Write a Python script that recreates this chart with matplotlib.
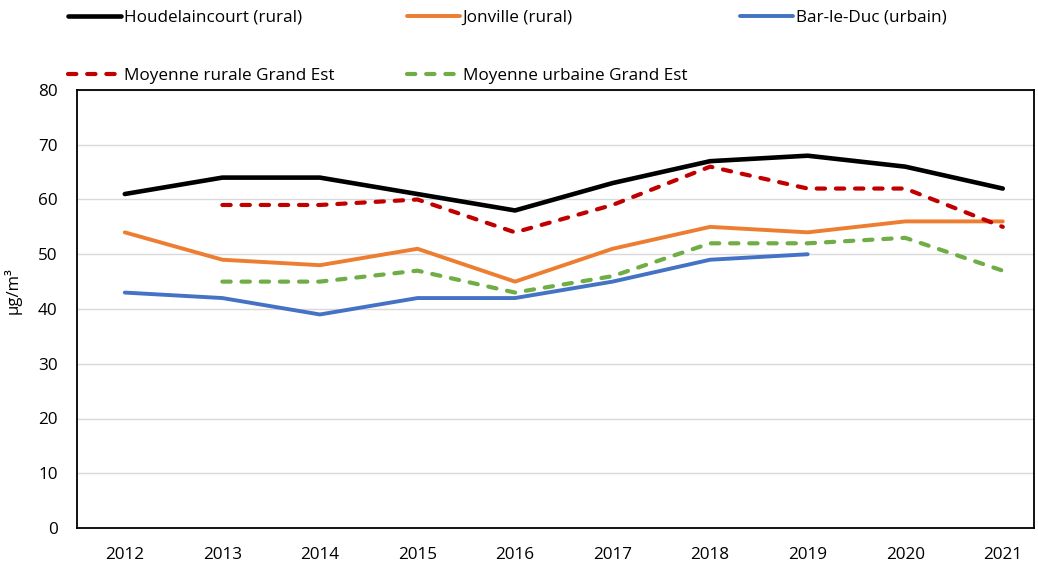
import numpy as np
import matplotlib.pyplot as plt

plt.rcParams['font.family'] = ['Open Sans', 'DejaVu Sans']
plt.rcParams['font.size'] = 12.3

years = ['2012', '2013', '2014', '2015', '2016', '2017', '2018', '2019', '2020', '2021']
houdelaincourt = [61, 64, 64, 61, 58, 63, 67, 68, 66, 62]
jonville = [54, 49, 48, 51, 45, 51, 55, 54, 56, 56]
bar_le_duc = [43, 42, 39, 42, 42, 45, 49, 50, np.nan, np.nan]
moy_rurale = [np.nan, 59, 59, 60, 54, 59, 66, 62, 62, 55]
moy_urbaine = [np.nan, 45, 45, 47, 43, 46, 52, 52, 53, 47]

x = np.arange(len(years))

fig = plt.figure(figsize=(10.38, 5.66), dpi=100)
ax = fig.add_axes([77/1038, 38/566, 957/1038, 438/566])

solid = dict(solid_capstyle='round', solid_joinstyle='round')
dashed = dict(dash_capstyle='round', dash_joinstyle='round', linestyle=(0, (2.0, 2.6)))

l1, = ax.plot(x, houdelaincourt, color='#000000', lw=3.3, label='Houdelaincourt (rural)', zorder=5, **solid)
l2, = ax.plot(x, jonville, color='#ED7D31', lw=2.8, label='Jonville (rural)', zorder=4, **solid)
l3, = ax.plot(x, bar_le_duc, color='#4472C4', lw=2.8, label='Bar-le-Duc (urbain)', zorder=4, **solid)
l4, = ax.plot(x, moy_rurale, color='#C00000', lw=3.0, label='Moyenne rurale Grand Est', zorder=4, **dashed)
l5, = ax.plot(x, moy_urbaine, color='#70AD47', lw=3.0, label='Moyenne urbaine Grand Est', zorder=3, **dashed)

ax.set_xlim(-0.49, 9.32)
ax.set_ylim(0, 80)
ax.set_yticks(range(0, 81, 10))
ax.set_xticks(x)
ax.set_xticklabels(years)
ax.tick_params(length=0)
ax.tick_params(axis='y', pad=14)
ax.tick_params(axis='x', pad=13.5)
ax.grid(axis='y', color='#d9d9d9', lw=1.0)
ax.set_axisbelow(True)
for s in ax.spines.values():
    s.set_color('black')
    s.set_linewidth(1.3)

ax.set_ylabel('µg/m³', fontsize=12)
ax.yaxis.set_label_coords(-0.0575, 0.543)

common = dict(loc='upper left', frameon=False, borderpad=0, borderaxespad=0,
              handlelength=3.1, handletextpad=0.15, labelspacing=2.45)
leg1 = fig.legend(handles=[l1, l4], bbox_to_anchor=(68/1038, 1 - 10/566), **common)
leg2 = fig.legend(handles=[l2, l5], bbox_to_anchor=(407/1038, 1 - 10/566), **common)
leg3 = fig.legend(handles=[l3], bbox_to_anchor=(740/1038, 1 - 10/566), **common)

fig.savefig('out.png', dpi=100)
